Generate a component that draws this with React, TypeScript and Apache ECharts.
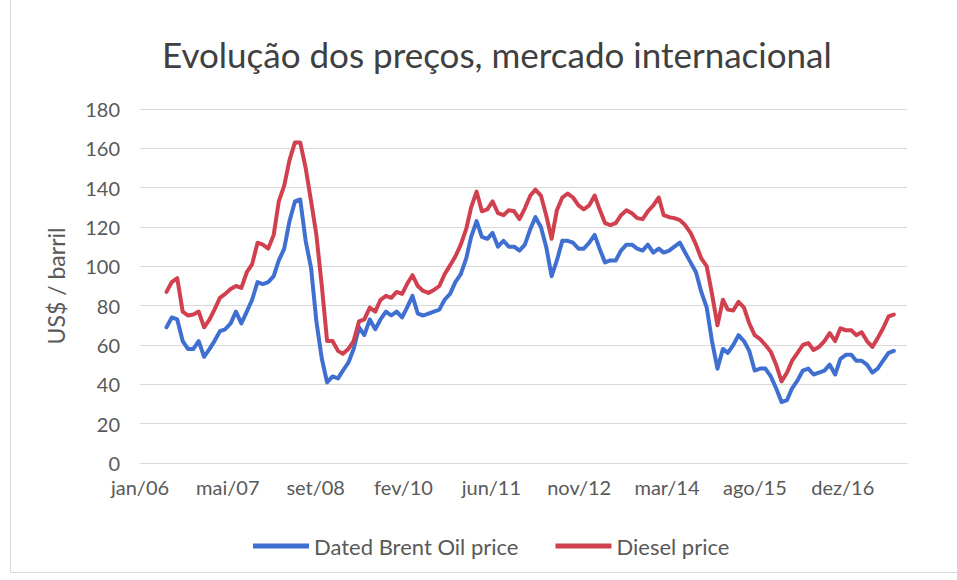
import React, { useEffect, useRef } from "react";
import * as echarts from "echarts";

// ---- data (monthly averages, US$ / barrel) ----
const FIRST_MONTH = "2006-06"; // first plotted month
const AXIS_START = "2006-01-01";
const AXIS_END = "2017-12-15";
const X_LABEL_STEP_DAYS = 500;
const X_LABELS = ["jan/06", "mai/07", "set/08", "fev/10", "jun/11", "nov/12", "mar/14", "ago/15", "dez/16"];

const BRENT = [
  69, 74, 73, 62, 58, 58, 62,
  54, 58, 62, 67, 68, 71, 77, 71, 77, 83, 92, 91,
  92, 95, 103, 109, 123, 133, 134, 113, 99, 72, 53, 41,
  44, 43, 47, 51, 58, 69, 65, 73, 68, 73, 77, 75,
  77, 74, 79, 85, 76, 75, 76, 77, 78, 83, 86, 92,
  96, 104, 115, 123, 115, 114, 117, 110, 113, 110, 110, 108,
  111, 119, 125, 120, 110, 95, 103, 113, 113, 112, 109, 109,
  112, 116, 109, 102, 103, 103, 108, 111, 111, 109, 108, 111,
  107, 109, 107, 108, 110, 112, 107, 102, 97, 87, 79, 62,
  48, 58, 56, 60, 65, 62, 57, 47, 48, 48, 44, 38,
  31, 32, 38, 42, 47, 48, 45, 46, 47, 50, 45, 53,
  55, 55, 52, 52, 50, 46, 48, 52, 56, 57,
];

const DIESEL = [
  87, 92, 94, 77, 75, 75.5, 77,
  69, 73, 78, 84, 86, 88.5, 90, 89, 97, 101, 112, 111,
  109, 116, 133, 141, 154, 163, 163, 150, 133, 116, 90, 62,
  62, 57, 55.5, 58, 62, 72, 73, 79, 77, 83, 85, 84,
  87, 86, 91, 95.5, 90, 87.5, 86.5, 88, 90, 96, 100.5, 105,
  111, 119, 130, 138, 128, 129, 133, 127, 126, 128.5, 128, 124,
  129.5, 136, 139, 136, 126, 114, 128.5, 135, 137, 135, 131, 129,
  131, 136, 129, 122, 121, 122, 126, 128.5, 127, 124.5, 124, 128,
  131, 135, 126, 125, 124.5, 123.5, 121, 117, 111, 104, 100, 86,
  70, 83, 78, 77.5, 82, 79, 71, 65, 63, 60, 56.5, 50,
  41.5, 46, 52, 56, 60, 61, 57.5, 59, 62, 66, 62, 68.5,
  67.5, 67.5, 65, 66.5, 62, 59, 63.5, 68.5, 74.5, 75.5,
];

const SERIES_NAMES = ["Dated Brent Oil price", "Diesel price"];
const TITLE = "Evolução dos preços, mercado internacional";
const Y_NAME = "US$ / barril";

// ---- helpers ----
const DAY = 86400000;
const startMs = Date.parse(AXIS_START + "T00:00:00Z");
const dayOffset = (iso: string) => Math.round((Date.parse(iso + "T00:00:00Z") - startMs) / DAY);

const monthList = (first: string, n: number) => {
  const [y0, m0] = first.split("-").map(Number);
  const out: string[] = [];
  for (let i = 0; i < n; i++) {
    const t = (m0 - 1) + i;
    const y = y0 + Math.floor(t / 12);
    const m = (t % 12) + 1;
    out.push(`${y}-${String(m).padStart(2, "0")}-01`);
  }
  return out;
};

const MONTHS = monthList(FIRST_MONTH, BRENT.length);

const FONT = "Lato";
const TEXT_COLOR = "#595959";

export default function App() {
  const ref = useRef<HTMLDivElement>(null);

  useEffect(() => {
    document.body.style.margin = "0";
    if (!ref.current) return;
    const chart = echarts.init(ref.current, null, { renderer: "svg" });
    const mk = (vals: number[]) => MONTHS.map((d, i) => [dayOffset(d), vals[i]]);
    chart.setOption({
      animation: false,
      backgroundColor: "#ffffff",
      textStyle: { fontFamily: FONT },
      title: {
        text: TITLE,
        left: 157,
        top: 31,
        textStyle: { fontFamily: FONT, fontSize: 35, fontWeight: "normal", color: "#404040" },
      },
      graphic: [
        {
          type: "rect",
          shape: { x: 10.5, y: -2, width: 960, height: 574.5 },
          style: { fill: "none", stroke: "#d9d9d9", lineWidth: 1 },
          silent: true,
        },
      ],
      legend: {
        left: 248,
        top: 530,
        itemWidth: 56,
        itemHeight: 5,
        itemGap: 37,
        icon: "rect",
        textStyle: { fontFamily: FONT, fontSize: 22, color: TEXT_COLOR },
        data: SERIES_NAMES,
      },
      grid: { left: 140, right: 50, top: 109, bottom: 117, containLabel: false },
      xAxis: {
        type: "value",
        min: 0,
        max: dayOffset(AXIS_END),
        interval: X_LABEL_STEP_DAYS,
        axisLine: { show: true, lineStyle: { color: "#d9d9d9", width: 1 } },
        axisTick: { show: false },
        splitLine: { show: false },
        axisLabel: {
          showMaxLabel: false,
          margin: 14,
          fontFamily: FONT,
          fontSize: 20,
          color: TEXT_COLOR,
          formatter: (v: number) => X_LABELS[Math.round(v / X_LABEL_STEP_DAYS)] ?? "",
        },
      },
      yAxis: {
        type: "value",
        min: 0,
        max: 180,
        interval: 20,
        name: Y_NAME,
        nameLocation: "middle",
        nameGap: 73,
        nameRotate: 90,
        nameTextStyle: { fontFamily: FONT, fontSize: 23, color: TEXT_COLOR },
        axisLine: { show: false },
        axisTick: { show: false },
        splitLine: { lineStyle: { color: "#d9d9d9", width: 1 } },
        axisLabel: { margin: 20, fontFamily: FONT, fontSize: 20, color: TEXT_COLOR },
      },
      series: [
        {
          name: SERIES_NAMES[0],
          type: "line",
          data: mk(BRENT),
          showSymbol: false,
          symbol: "none",
          itemStyle: { color: "#3f6fd0" },
          lineStyle: { color: "#3f6fd0", width: 4, join: "round", cap: "round" },
        },
        {
          name: SERIES_NAMES[1],
          type: "line",
          data: mk(DIESEL),
          showSymbol: false,
          symbol: "none",
          itemStyle: { color: "#d1404e" },
          lineStyle: { color: "#d1404e", width: 4, join: "round", cap: "round" },
        },
      ],
    });
    return () => chart.dispose();
  }, []);

  return <div ref={ref} style={{ width: 957, height: 580, background: "#fff" }} />;
}
